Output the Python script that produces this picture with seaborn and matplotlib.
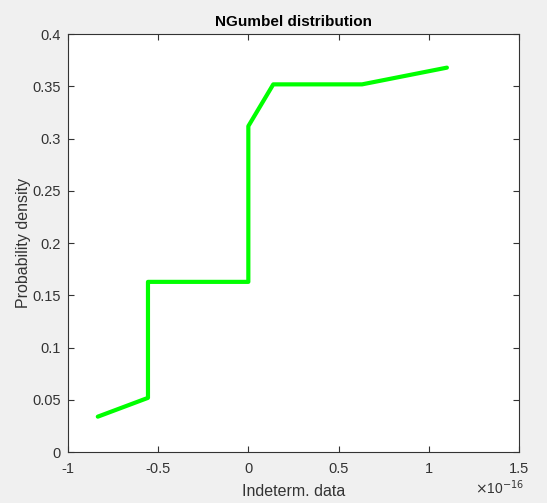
import numpy as np
import matplotlib
matplotlib.use('Agg')
import matplotlib.pyplot as plt
import matplotlib.ticker as mticker
import seaborn as sns

X_VALS = [-0.834e-16, -0.556e-16, -0.556e-16, 0.0, 0.0, 0.138e-16, 0.63e-16, 1.10e-16]
Y_VALS = [0.034, 0.052, 0.163, 0.163, 0.312, 0.352, 0.352, 0.368]
X_TICKS = [-1e-16, -0.5e-16, 0.0, 0.5e-16, 1e-16, 1.5e-16]
Y_TICKS = [0, 0.05, 0.1, 0.15, 0.2, 0.25, 0.3, 0.35, 0.4]

sns.set_theme(style='white')
plt.rcParams['font.family'] = ['Liberation Sans', 'DejaVu Sans']
plt.rcParams['axes.unicode_minus'] = False

TXT = '#333333'

fig = plt.figure(figsize=(5.47, 5.03), dpi=100, facecolor='#F0F0F0')
ax = fig.add_axes([0.124, 0.101, 0.825, 0.831])
ax.set_facecolor('white')

sns.lineplot(x=X_VALS, y=Y_VALS, sort=False, estimator=None,
             color='#00FF00', linewidth=3, ax=ax)

ax.set_xlim(-1e-16, 1.5e-16)
ax.set_ylim(0, 0.4)
ax.set_xticks(X_TICKS)
ax.set_yticks(Y_TICKS)
ax.yaxis.set_major_formatter(mticker.FuncFormatter(lambda v, p: f'{v:g}'))
ax.xaxis.set_major_formatter(mticker.FuncFormatter(lambda v, p: f'{v / 1e-16:g}'))

ax.tick_params(direction='in', length=4, width=0.8, colors=TXT, labelsize=10.5,
               top=True, right=True, bottom=True, left=True)
ax.tick_params(axis='x', pad=7)
ax.tick_params(axis='y', pad=5)
for s in ax.spines.values():
    s.set_color(TXT)
    s.set_linewidth(0.8)
    s.set_visible(True)

ax.set_title('NGumbel distribution', fontsize=11, fontweight='bold', color='black', pad=6)
ax.set_xlabel('Indeterm. data', fontsize=11.5, color=TXT, labelpad=6)
ax.set_ylabel('Probability density', fontsize=11.5, color=TXT, labelpad=1)

fig.text(0.868, 0.012, r'$\times$10$^{-16}$', fontsize=10, color=TXT, ha='left', va='bottom')

fig.savefig('out.png', dpi=100, facecolor=fig.get_facecolor())
